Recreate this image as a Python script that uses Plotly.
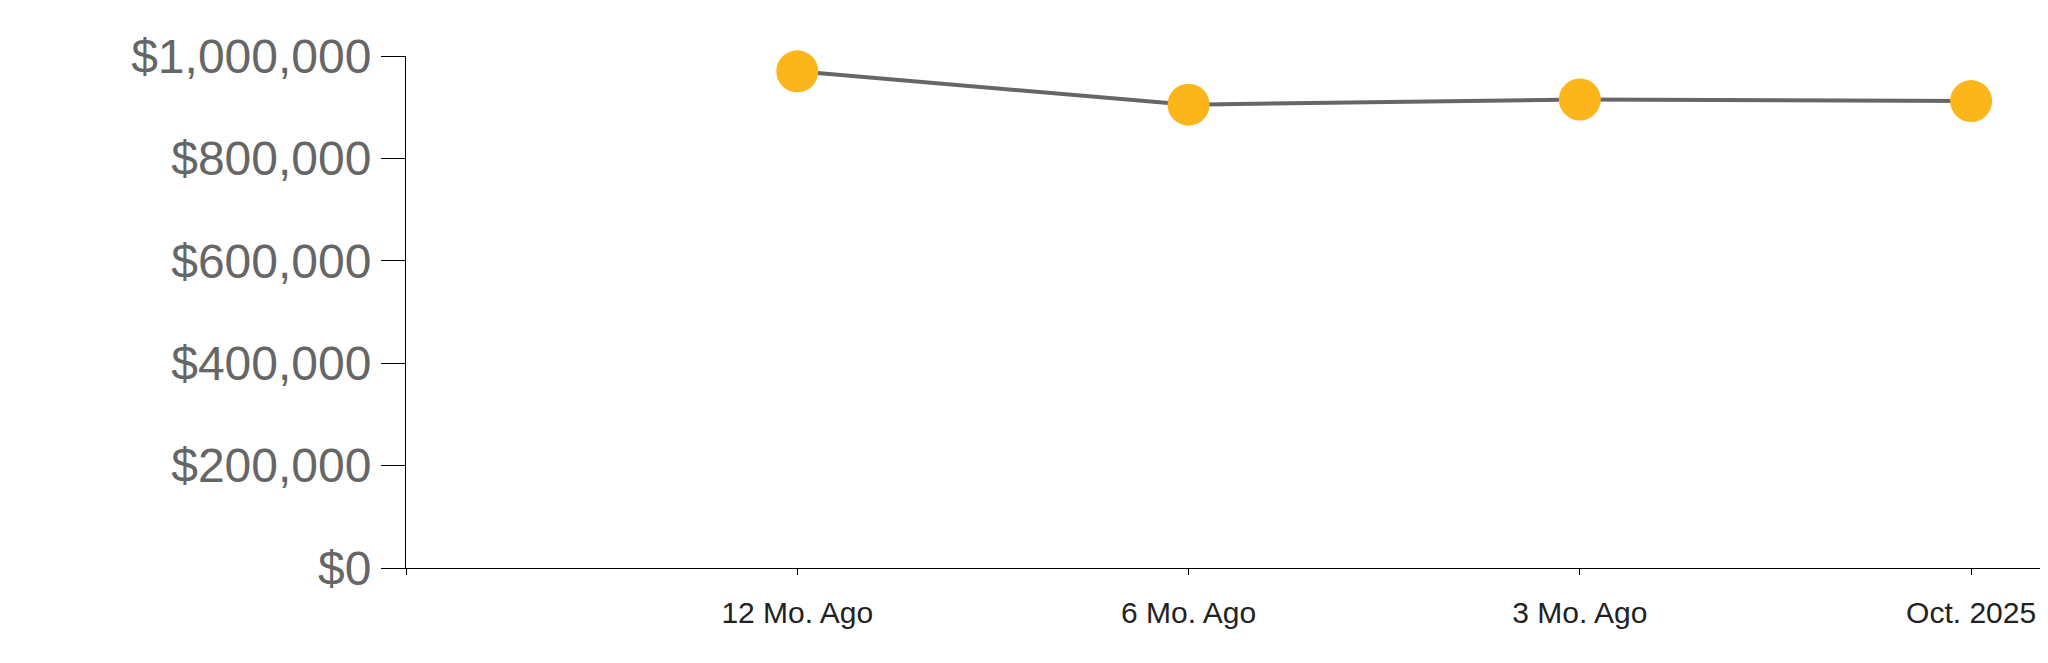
import plotly.graph_objects as go

categories = ["12 Mo. Ago", "6 Mo. Ago", "3 Mo. Ago", "Oct. 2025"]
values = [970000, 905000, 915000, 912000]
positions = [1, 2, 3, 4]
y_ticks = [0, 200000, 400000, 600000, 800000, 1000000]
y_tick_labels = ["$0", "$200,000", "$400,000", "$600,000", "$800,000", "$1,000,000"]

fig = go.Figure()
fig.add_trace(go.Scatter(
    x=positions, y=values, mode="lines+markers",
    line=dict(color="#666666", width=4),
    marker=dict(color="#FCB51A", size=42, line=dict(width=0)),
    cliponaxis=False, hoverinfo="skip", showlegend=False,
))

fig.update_layout(
    width=2048, height=640,
    margin=dict(l=398, r=0, t=48, b=80, pad=0),
    paper_bgcolor="white", plot_bgcolor="white",
    font=dict(family="Liberation Sans, Arial, sans-serif"),
)
fig.update_xaxes(
    range=[0, 4.217], tickmode="array", tickvals=[0] + positions, ticktext=[""] + categories,
    showgrid=False, zeroline=False, showline=True, linecolor="#000000", linewidth=1,
    ticks="outside", ticklen=6, tickcolor="#000000", tickwidth=1,
    tickfont=dict(size=30, color="#222222"), ticklabelstandoff=12,
)
fig.update_yaxes(
    range=[0, 1000000], tickmode="array", tickvals=y_ticks, ticktext=y_tick_labels,
    showgrid=False, zeroline=False, showline=True, linecolor="#000000", linewidth=1,
    ticks="outside", ticklen=24, tickcolor="#000000", tickwidth=1,
    tickfont=dict(size=48, color="#666666"),
)

fig.write_html("out.html")
